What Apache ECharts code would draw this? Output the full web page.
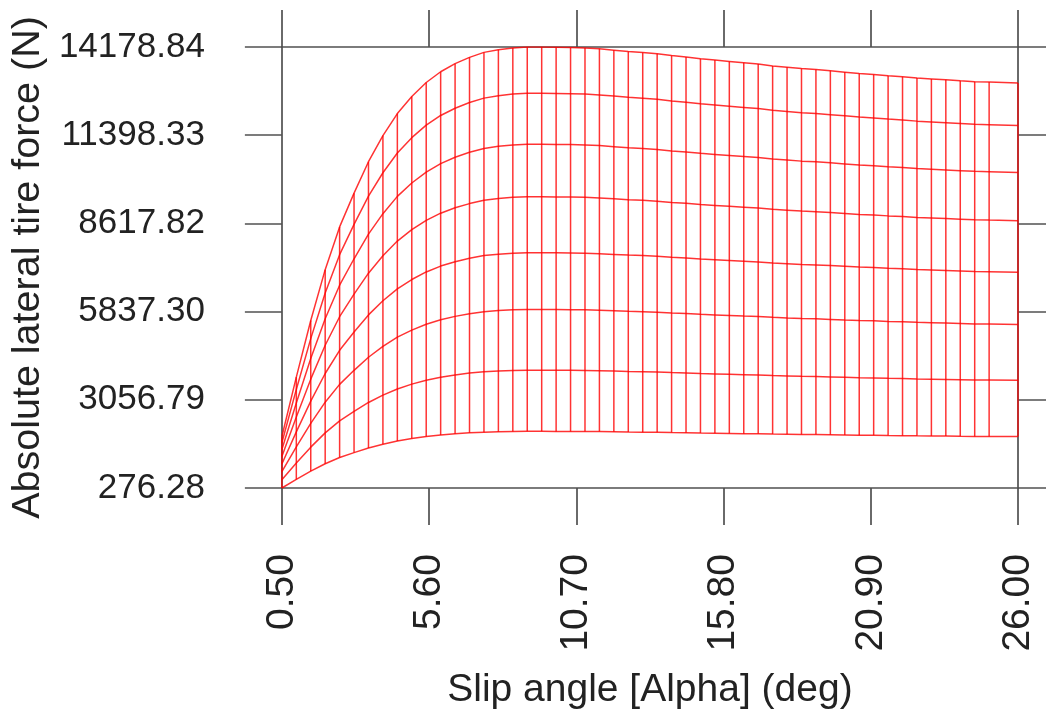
<!DOCTYPE html>
<html>
<head>
<meta charset="utf-8">
<script src="https://cdn.jsdelivr.net/npm/echarts@6/dist/echarts.min.js"></script>
<style>
  html, body { margin: 0; padding: 0; background: #ffffff; }
  #chart { width: 1046px; height: 715px; }
</style>
</head>
<body>
<div id="chart"></div>
<script>
// Slip angle grid (deg)
const slipAngles = [
  0.5, 1.0, 1.5, 2.0, 2.5, 3.0, 3.5, 4.0, 4.5, 5.0,
  5.5, 6.0, 6.5, 7.0, 7.5, 8.0, 8.5, 9.0, 9.5, 10.0,
  10.5, 11.0, 11.5, 12.0, 12.5, 13.0, 13.5, 14.0, 14.5, 15.0,
  15.5, 16.0, 16.5, 17.0, 17.5, 18.0, 18.5, 19.0, 19.5, 20.0,
  20.5, 21.0, 21.5, 22.0, 22.5, 23.0, 23.5, 24.0, 24.5, 25.0,
  26.0
];

// Absolute lateral tire force (N), one curve per vertical load, highest load first
const forceLoad8 = [
  1900, 3772, 5558, 7160, 8507, 9571, 10563, 11386, 12080, 12619,
  13059, 13399, 13654, 13853, 14009, 14094, 14150, 14178.84, 14176, 14170,
  14165, 14150, 14122, 14080, 14037, 14009, 13966, 13909, 13867, 13810,
  13768, 13725, 13683, 13640, 13583, 13541, 13498, 13470, 13427, 13385,
  13342, 13314, 13271, 13243, 13200, 13172, 13144, 13115, 13087, 13073,
  13045
];
const forceLoad7 = [
  1704, 3384, 4986, 6424, 7632, 8586, 9476, 10214, 10837, 11321,
  11715, 12020, 12249, 12427, 12567, 12644, 12695, 12720, 12718, 12712,
  12707, 12695, 12669, 12631, 12593, 12567, 12529, 12478, 12440, 12389,
  12351, 12313, 12275, 12237, 12186, 12148, 12109, 12084, 12046, 12008,
  11970, 11944, 11906, 11880, 11842, 11817, 11791, 11766, 11741, 11728,
  11702
];
const forceLoad6 = [
  1489, 2957, 4357, 5613, 6669, 7503, 8281, 8925, 9470, 9892,
  10237, 10504, 10704, 10859, 10982, 11048, 11093, 11115, 11113, 11108,
  11104, 11093, 11071, 11037, 11004, 10982, 10948, 10904, 10870, 10826,
  10793, 10759, 10726, 10693, 10648, 10615, 10581, 10559, 10526, 10493,
  10459, 10437, 10404, 10381, 10348, 10326, 10304, 10281, 10259, 10248,
  10226
];
const forceLoad5 = [
  1268, 2516, 3708, 4777, 5676, 6386, 7048, 7596, 8060, 8419,
  8713, 8940, 9110, 9242, 9346, 9403, 9441, 9460, 9458, 9454,
  9451, 9441, 9422, 9394, 9365, 9346, 9318, 9280, 9252, 9214,
  9186, 9157, 9129, 9101, 9063, 9034, 9006, 8987, 8959, 8930,
  8902, 8883, 8855, 8836, 8807, 8788, 8769, 8751, 8732, 8722,
  8703
];
const forceLoad4 = [
  1031, 2047, 3016, 3886, 4617, 5194, 5733, 6179, 6556, 6849,
  7087, 7272, 7410, 7518, 7603, 7649, 7680, 7695, 7694, 7690,
  7687, 7680, 7664, 7641, 7618, 7603, 7580, 7549, 7526, 7495,
  7472, 7449, 7426, 7403, 7372, 7349, 7326, 7310, 7287, 7264,
  7241, 7226, 7203, 7187, 7164, 7149, 7133, 7118, 7102, 7095,
  7079
];
const forceLoad3 = [
  791, 1571, 2315, 2982, 3543, 3986, 4399, 4742, 5031, 5255,
  5439, 5580, 5687, 5769, 5834, 5870, 5893, 5905, 5904, 5901,
  5899, 5893, 5881, 5864, 5846, 5834, 5816, 5793, 5775, 5751,
  5734, 5716, 5698, 5681, 5657, 5639, 5622, 5610, 5592, 5574,
  5557, 5545, 5527, 5515, 5498, 5486, 5474, 5462, 5450, 5444,
  5433
];
const forceLoad2 = [
  535, 1061, 1564, 2015, 2394, 2693, 2973, 3204, 3399, 3551,
  3675, 3771, 3842, 3898, 3942, 3966, 3982, 3990, 3990, 3988,
  3986, 3982, 3974, 3962, 3950, 3942, 3930, 3914, 3902, 3886,
  3874, 3862, 3850, 3838, 3822, 3810, 3798, 3791, 3779, 3767,
  3755, 3747, 3735, 3727, 3715, 3707, 3699, 3691, 3683, 3679,
  3671
];
const forceLoad1 = [
  276.28, 548, 808, 1041, 1237, 1392, 1536, 1656, 1757, 1835,
  1899, 1949, 1986, 2015, 2037, 2050, 2058, 2062, 2062, 2061,
  2060, 2058, 2054, 2048, 2041, 2037, 2031, 2023, 2017, 2008,
  2002, 1996, 1990, 1984, 1975, 1969, 1963, 1959, 1953, 1947,
  1940, 1936, 1930, 1926, 1920, 1916, 1912, 1907, 1903, 1901,
  1897
];

// Tick positions on both axes
const slipTicks = [0.50, 5.60, 10.70, 15.80, 20.90, 26.00];
const forceTicks = [276.28, 3056.79, 5837.30, 8617.82, 11398.33, 14178.84];

const xTitle = 'Slip angle [Alpha] (deg)';
const yTitle = 'Absolute lateral tire force (N)';

const curves = [forceLoad8, forceLoad7, forceLoad6, forceLoad5,
                forceLoad4, forceLoad3, forceLoad2, forceLoad1];

const WIRE = 'rgba(255, 0, 0, 0.8)';
const FRAME = '#505050';
const FONT = "'Liberation Sans', Arial, sans-serif";

const frameLine = { show: true, onZero: false, lineStyle: { color: FRAME, width: 1.7 } };
const frameTick = (vals) => ({
  show: true, inside: false, length: 37, customValues: vals,
  lineStyle: { color: FRAME, width: 1.7 }
});

// Load lines across the slip range
const loadSeries = curves.map((c, j) => ({
  type: 'line',
  name: 'load' + (8 - j),
  data: slipAngles.map((s, i) => [s, c[i]]),
  symbol: 'none',
  lineStyle: { color: WIRE, width: 1.5 },
  silent: true,
  z: 3
}));

// Cross lines at each slip angle, spanning lowest to highest load
const lowest = curves[curves.length - 1];
const highest = curves[0];
const crossSeries = {
  type: 'custom',
  data: slipAngles.map((s, i) => [s, lowest[i], highest[i]]),
  renderItem: function (params, api) {
    const a = api.coord([api.value(0), api.value(1)]);
    const b = api.coord([api.value(0), api.value(2)]);
    return {
      type: 'line',
      shape: { x1: a[0], y1: a[1], x2: b[0], y2: b[1] },
      style: { stroke: WIRE, lineWidth: 1.5 }
    };
  },
  silent: true,
  z: 3
};

const chart = echarts.init(document.getElementById('chart'), null, { renderer: 'canvas' });
chart.setOption({
  animation: false,
  backgroundColor: '#ffffff',
  grid: { left: 281, top: 47, width: 737, height: 442, containLabel: false },
  xAxis: [
    {
      type: 'value', position: 'bottom', min: 0.5, max: 26,
      axisLine: frameLine, axisTick: frameTick(slipTicks),
      splitLine: { show: false },
      axisLabel: {
        customValues: slipTicks, rotate: 90, margin: 66,
        formatter: (v) => v.toFixed(2),
        color: '#222', fontSize: 39, fontFamily: FONT
      },
      name: xTitle, nameLocation: 'middle', nameGap: 183,
      nameTextStyle: { color: '#222', fontSize: 39, fontFamily: FONT }
    },
    {
      type: 'value', position: 'top', min: 0.5, max: 26,
      axisLine: frameLine, axisTick: frameTick(slipTicks),
      splitLine: { show: false }, axisLabel: { show: false }
    }
  ],
  yAxis: [
    {
      type: 'value', position: 'left', min: 276.28, max: 14178.84,
      axisLine: frameLine, axisTick: frameTick(forceTicks),
      splitLine: { show: false },
      axisLabel: {
        customValues: forceTicks, margin: 77,
        formatter: (v) => v.toFixed(2),
        color: '#222', fontSize: 35, fontFamily: FONT
      },
      name: yTitle, nameLocation: 'middle', nameGap: 233,
      nameTextStyle: { color: '#222', fontSize: 39.5, fontFamily: FONT }
    },
    {
      type: 'value', position: 'right', min: 276.28, max: 14178.84,
      axisLine: frameLine, axisTick: frameTick(forceTicks),
      splitLine: { show: false }, axisLabel: { show: false }
    }
  ],
  series: loadSeries.concat([crossSeries])
});
</script>
</body>
</html>
